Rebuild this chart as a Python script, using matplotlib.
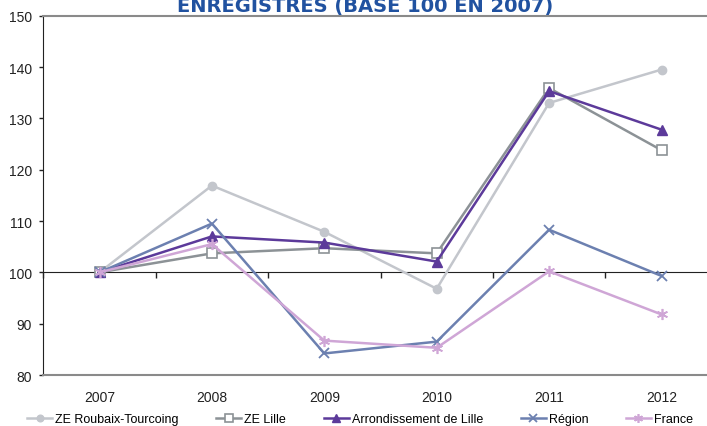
import numpy as np
from matplotlib import pyplot as plt

plt.rcParams['font.family'] = ['Liberation Sans', 'DejaVu Sans']

# data (base 100 in 2007)
years = ['2007', '2008', '2009', '2010', '2011', '2012']
roubaix = [100, 116.9, 107.9, 96.8, 133.0, 139.5]
ze_lille = [100, 103.7, 104.7, 103.7, 135.9, 123.8]
arrondissement = [100, 107.0, 105.8, 102.1, 135.3, 127.8]
region = [100, 109.5, 84.2, 86.5, 108.3, 99.3]
france = [100, 105.5, 86.7, 85.3, 100.2, 91.8]

series_names = ['ZE Roubaix-Tourcoing', 'ZE Lille', 'Arrondissement de Lille', 'Région', 'France']
title = 'ENREGISTRÉS (BASE 100 EN 2007)'

W, H = 707, 427
fig = plt.figure(figsize=(W / 100, H / 100), dpi=100)

# plot area, right side runs past the picture edge like the original crop
x0, x1 = 43.3, 43.3 + 6 * 112.4
ytop, ybot = 16.7, 376.0
ax = fig.add_axes([x0 / W, (H - ybot) / H, (x1 - x0) / W, (ybot - ytop) / H])

x = np.arange(len(years))
styles = [
    dict(color='#c3c6cc', marker='o', ms=6, mfc='#c3c6cc', mec='#c3c6cc'),
    dict(color='#8c9296', marker='s', ms=7.5, mfc='white', mec='#8c9296', mew=1.2),
    dict(color='#5c3a9a', marker='^', ms=7, mfc='#5c3a9a', mec='#5c3a9a'),
    dict(color='#6c80b0', marker='x', ms=7, mew=1.3),
    dict(color='#cfa6d6', marker=(6, 2, 0), ms=8, mew=1.2),
]
data = [roubaix, ze_lille, arrondissement, region, france]
handles = []
for vals, st, name in zip(data, styles, series_names):
    h, = ax.plot(x, vals, lw=1.8, label=name, zorder=3, **st)
    handles.append(h)

ymin, ymax = 80, 150
ax.set_ylim(ymin, ymax)
ax.set_xlim(-0.5, len(years) - 0.5)
ax.set_yticks(np.arange(80, 151, 10))
ax.tick_params(axis='y', direction='out', length=3, width=1, pad=5,
               labelsize=10, colors='#222222')
ax.set_xticks(x)
ax.set_xticklabels(years)
ax.tick_params(axis='x', length=0, pad=11, labelsize=10, colors='#222222')

ax.spines['right'].set_visible(False)
ax.spines['top'].set_color('#8a8a8a')
ax.spines['top'].set_linewidth(1.5)
ax.spines['bottom'].set_color('#8a8a8a')
ax.spines['bottom'].set_linewidth(1.5)
ax.spines['left'].set_color('#222222')

# category axis crossing at 100
sec = ax.secondary_xaxis((100 - ymin) / (ymax - ymin))
sec.set_xticks(np.arange(-0.5, len(years), 1.0))
sec.set_xticklabels([])
sec.tick_params(direction='out', length=4, width=1, colors='#222222')
sec.spines['bottom'].set_color('#222222')

# title is cut at the top edge, as in the source picture
fig.text(365 / W, 1 - 12 / H, title, ha='center', va='baseline',
         fontsize=14, fontweight='bold', color='#2152a0', family='DejaVu Sans')

fig.legend(handles=handles, loc='center', bbox_to_anchor=(360 / W, (H - 420) / H),
           ncol=5, frameon=False, fontsize=9, handlelength=2.0, handletextpad=0.25,
           columnspacing=3.0, borderpad=0, borderaxespad=0, markerscale=0.8)

fig.savefig('out.png', dpi=100)
